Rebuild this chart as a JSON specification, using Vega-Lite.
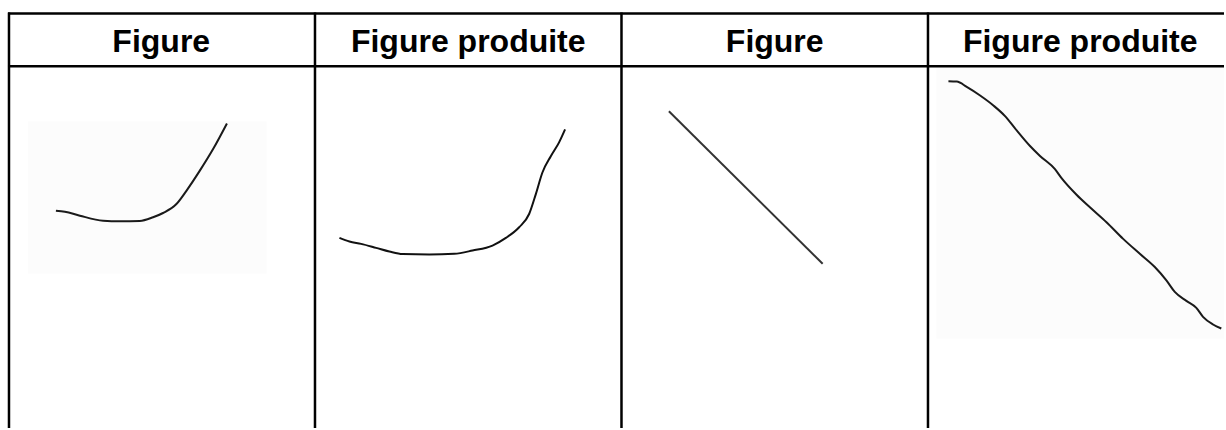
{
  "$schema": "https://vega.github.io/schema/vega-lite/v6.json",
  "autosize": {"type": "fit", "contains": "padding"},
  "width": 1226,
  "height": 430,
  "padding": 0,
  "background": "white",
  "config": {"view": {"stroke": null}},
  "datasets": {
    "panels": [
      {"x": 28, "x2": 267, "y": 122, "y2": 275},
      {"x": 938, "x2": 1226, "y": 68, "y2": 340}
    ],
    "grid": [
      {"x": 8, "x2": 1226, "y": 13.5, "y2": 13.5},
      {"x": 8, "x2": 1226, "y": 66.5, "y2": 66.5},
      {"x": 9, "x2": 9, "y": 12.5, "y2": 430},
      {"x": 315.5, "x2": 315.5, "y": 12.5, "y2": 430},
      {"x": 622.5, "x2": 622.5, "y": 12.5, "y2": 430},
      {"x": 929.5, "x2": 929.5, "y": 12.5, "y2": 430}
    ],
    "headers": [
      {"x": 161.5, "label": "Figure"},
      {"x": 469, "label": "Figure produite"},
      {"x": 776, "label": "Figure"},
      {"x": 1082, "label": "Figure produite"}
    ],
    "curves": [
      {"curve": "a", "i": 0, "x": 56, "y": 211.7},
      {"curve": "a", "i": 1, "x": 65, "y": 212.7},
      {"curve": "a", "i": 2, "x": 80, "y": 216.7},
      {"curve": "a", "i": 3, "x": 103.3, "y": 221.7},
      {"curve": "a", "i": 4, "x": 120, "y": 222.3},
      {"curve": "a", "i": 5, "x": 140, "y": 222},
      {"curve": "a", "i": 6, "x": 153.3, "y": 218.3},
      {"curve": "a", "i": 7, "x": 163.3, "y": 214},
      {"curve": "a", "i": 8, "x": 176.7, "y": 205},
      {"curve": "a", "i": 9, "x": 186.7, "y": 191.7},
      {"curve": "a", "i": 10, "x": 200, "y": 171.7},
      {"curve": "a", "i": 11, "x": 213.3, "y": 150},
      {"curve": "a", "i": 12, "x": 227.3, "y": 124},

      {"curve": "b", "i": 0, "x": 340, "y": 239},
      {"curve": "b", "i": 1, "x": 350, "y": 242.7},
      {"curve": "b", "i": 2, "x": 361.7, "y": 245},
      {"curve": "b", "i": 3, "x": 376.7, "y": 249},
      {"curve": "b", "i": 4, "x": 390, "y": 252.7},
      {"curve": "b", "i": 5, "x": 403.3, "y": 255.3},
      {"curve": "b", "i": 6, "x": 430, "y": 255.7},
      {"curve": "b", "i": 7, "x": 455, "y": 255},
      {"curve": "b", "i": 8, "x": 473.3, "y": 251.7},
      {"curve": "b", "i": 9, "x": 493.3, "y": 246.7},
      {"curve": "b", "i": 10, "x": 506.7, "y": 239},
      {"curve": "b", "i": 11, "x": 520, "y": 228.3},
      {"curve": "b", "i": 12, "x": 530, "y": 215},
      {"curve": "b", "i": 13, "x": 536.7, "y": 195},
      {"curve": "b", "i": 14, "x": 543.3, "y": 173.3},
      {"curve": "b", "i": 15, "x": 551.7, "y": 157},
      {"curve": "b", "i": 16, "x": 560, "y": 143},
      {"curve": "b", "i": 17, "x": 566, "y": 130},

      {"curve": "c", "i": 0, "x": 670, "y": 111.7},
      {"curve": "c", "i": 1, "x": 824, "y": 265},

      {"curve": "d", "i": 0, "x": 950, "y": 81.7},
      {"curve": "d", "i": 1, "x": 958.3, "y": 82},
      {"curve": "d", "i": 2, "x": 968.3, "y": 87.3},
      {"curve": "d", "i": 3, "x": 981.7, "y": 96},
      {"curve": "d", "i": 4, "x": 995, "y": 106},
      {"curve": "d", "i": 5, "x": 1006.7, "y": 116.7},
      {"curve": "d", "i": 6, "x": 1016.7, "y": 129},
      {"curve": "d", "i": 7, "x": 1031.7, "y": 146.7},
      {"curve": "d", "i": 8, "x": 1041.7, "y": 156.7},
      {"curve": "d", "i": 9, "x": 1056.7, "y": 170},
      {"curve": "d", "i": 10, "x": 1063.3, "y": 179},
      {"curve": "d", "i": 11, "x": 1078.3, "y": 195.7},
      {"curve": "d", "i": 12, "x": 1091.7, "y": 208.3},
      {"curve": "d", "i": 13, "x": 1108.3, "y": 223.3},
      {"curve": "d", "i": 14, "x": 1125, "y": 240},
      {"curve": "d", "i": 15, "x": 1141.7, "y": 255},
      {"curve": "d", "i": 16, "x": 1156.7, "y": 268.3},
      {"curve": "d", "i": 17, "x": 1168.3, "y": 281.7},
      {"curve": "d", "i": 18, "x": 1176.7, "y": 293.3},
      {"curve": "d", "i": 19, "x": 1188.3, "y": 302.3},
      {"curve": "d", "i": 20, "x": 1198.3, "y": 309.3},
      {"curve": "d", "i": 21, "x": 1205, "y": 318.3},
      {"curve": "d", "i": 22, "x": 1215, "y": 326},
      {"curve": "d", "i": 23, "x": 1223.3, "y": 330}
    ]
  },
  "layer": [
    {
      "data": {"name": "panels"},
      "mark": {"type": "rect", "fill": "#fcfcfc"},
      "encoding": {
        "x": {"field": "x", "type": "quantitative", "scale": {"domain": [0, 1226], "nice": false, "zero": false}, "axis": null},
        "x2": {"field": "x2"},
        "y": {"field": "y", "type": "quantitative", "scale": {"domain": [0, 430], "nice": false, "zero": false, "reverse": true}, "axis": null},
        "y2": {"field": "y2"}
      }
    },
    {
      "data": {"name": "grid"},
      "mark": {"type": "rule", "stroke": "#000000", "strokeWidth": 2.5},
      "encoding": {
        "x": {"field": "x", "type": "quantitative"},
        "x2": {"field": "x2"},
        "y": {"field": "y", "type": "quantitative"},
        "y2": {"field": "y2"}
      }
    },
    {
      "data": {"name": "curves"},
      "mark": {"type": "line", "interpolate": "monotone"},
      "encoding": {
        "x": {"field": "x", "type": "quantitative"},
        "y": {"field": "y", "type": "quantitative"},
        "detail": {"field": "curve", "type": "nominal"},
        "order": {"field": "i", "type": "quantitative"},
        "stroke": {"field": "curve", "type": "nominal", "scale": {"domain": ["a", "b", "c", "d"], "range": ["#1a1a1a", "#111111", "#333333", "#1a1a1a"]}, "legend": null},
        "strokeWidth": {"field": "curve", "type": "nominal", "scale": {"domain": ["a", "b", "c", "d"], "range": [2, 2, 1.3, 2]}, "legend": null}
      }
    },
    {
      "data": {"name": "headers"},
      "mark": {"type": "text", "font": "Liberation Sans", "fontWeight": "bold", "fontSize": 32, "color": "#000000", "align": "center", "baseline": "alphabetic"},
      "encoding": {
        "x": {"field": "x", "type": "quantitative"},
        "y": {"datum": 52, "type": "quantitative"},
        "text": {"field": "label", "type": "nominal"}
      }
    }
  ]
}
